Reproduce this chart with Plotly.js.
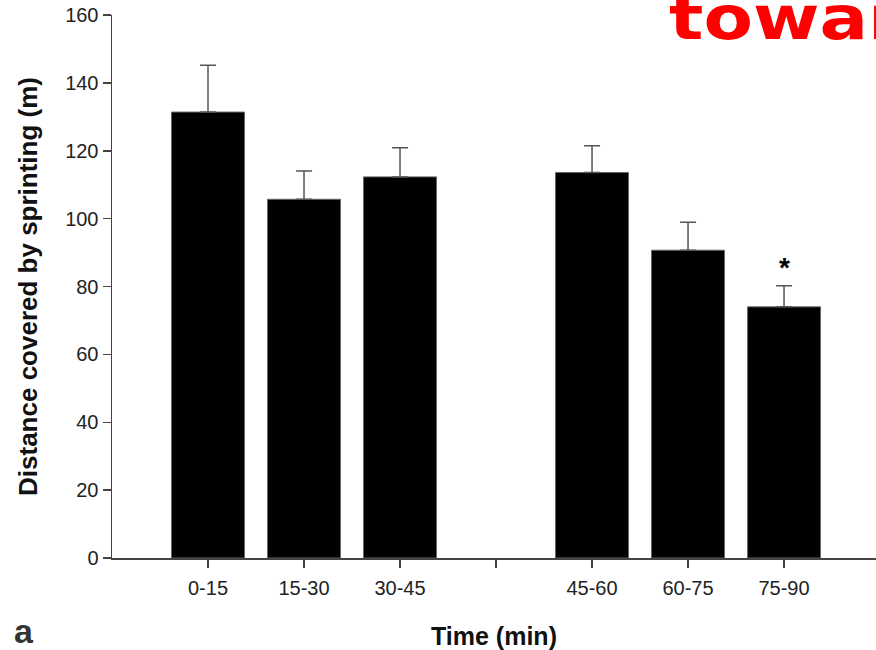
<!DOCTYPE html>
<html>
<head>
<meta charset="utf-8">
<script src="https://cdn.plot.ly/plotly-3.0.1.min.js"></script>
<style>html,body{margin:0;padding:0;background:#fff;}#chart{width:876px;height:650px;}</style>
</head>
<body>
<div id="chart"></div>
<script>
// Data
const categories = ['0-15', '15-30', '30-45', 'gap', '45-60', '60-75', '75-90'];
const tickLabels = ['0-15', '15-30', '30-45', '', '45-60', '60-75', '75-90'];
const meanValues = [131.4, 105.7, 112.3, null, 113.6, 90.7, 74.0];
const upperValues = [145.2, 114.0, 120.9, null, 121.5, 98.9, 80.2];
const errPlus = meanValues.map((v, i) => v === null ? null : +(upperValues[i] - v).toFixed(2));
const errMinus = meanValues.map(v => v === null ? null : 0);
const yTicks = [0, 20, 40, 60, 80, 100, 120, 140, 160];
const bannerText = 'towards';

const FONT = '"Liberation Sans", Arial, Helvetica, sans-serif';

const trace = {
  type: 'bar',
  x: categories,
  y: meanValues,
  width: 0.76,
  marker: { color: '#000', line: { color: '#666', width: 1 } },
  error_y: {
    type: 'data', symmetric: false,
    array: errPlus, arrayminus: errMinus,
    color: '#555', thickness: 1.5, width: 8
  },
  hoverinfo: 'skip'
};

const layout = {
  width: 876, height: 650,
  margin: { l: 112, r: 0, t: 15, b: 92, pad: 0 },
  paper_bgcolor: '#fff', plot_bgcolor: '#fff',
  showlegend: false,
  font: { family: FONT, color: '#222' },
  xaxis: {
    type: 'category',
    categoryorder: 'array', categoryarray: categories,
    range: [-1, 6.958],
    tickvals: categories, ticktext: tickLabels,
    showline: true, linecolor: '#444', linewidth: 1.5,
    ticks: 'outside', ticklen: 8, tickwidth: 1.5, tickcolor: '#444',
    ticklabelstandoff: 3,
    showgrid: false, zeroline: false,
    tickfont: { size: 20, color: '#222', family: FONT },
    title: { text: '<b>Time (min)</b>', font: { size: 25, color: '#111', family: FONT }, standoff: 30 }
  },
  yaxis: {
    range: [0, 160],
    tickvals: yTicks,
    showline: true, linecolor: '#444', linewidth: 1.5,
    ticks: 'outside', ticklen: 8, tickwidth: 1.5, tickcolor: '#444',
    showgrid: false, zeroline: false,
    tickfont: { size: 20, color: '#222', family: FONT },
    title: { text: '<b>Distance covered by sprinting (m)</b>', font: { size: 26, color: '#111', family: FONT }, standoff: 20 }
  },
  annotations: [
    { xref: 'x', yref: 'y', x: '75-90', y: 85.5, text: '<b>*</b>', showarrow: false,
      font: { size: 28, color: '#000', family: FONT } },
    { xref: 'paper', yref: 'paper', x: -0.115, y: -0.135, text: '<b>a</b>', showarrow: false,
      xanchor: 'center', yanchor: 'middle', font: { size: 34, color: '#333', family: FONT } },
    { xref: 'paper', yref: 'paper', x: 0.726, y: 0.995, text: '<b>' + bannerText + '</b>', showarrow: false,
      xanchor: 'left', yanchor: 'middle', font: { size: 60, color: '#ff0000', family: '"DejaVu Sans", sans-serif' } }
  ]
};

Plotly.newPlot('chart', [trace], layout, { staticPlot: true, displayModeBar: false }).then(function () {
  document.querySelectorAll('.annotation-text').forEach(function (t) {
    if (t.textContent === bannerText) {
      t.style.transformBox = 'fill-box';
      t.style.transformOrigin = 'left center';
      t.style.transform = 'scaleX(1.2)';
    }
  });
});
</script>
</body>
</html>
